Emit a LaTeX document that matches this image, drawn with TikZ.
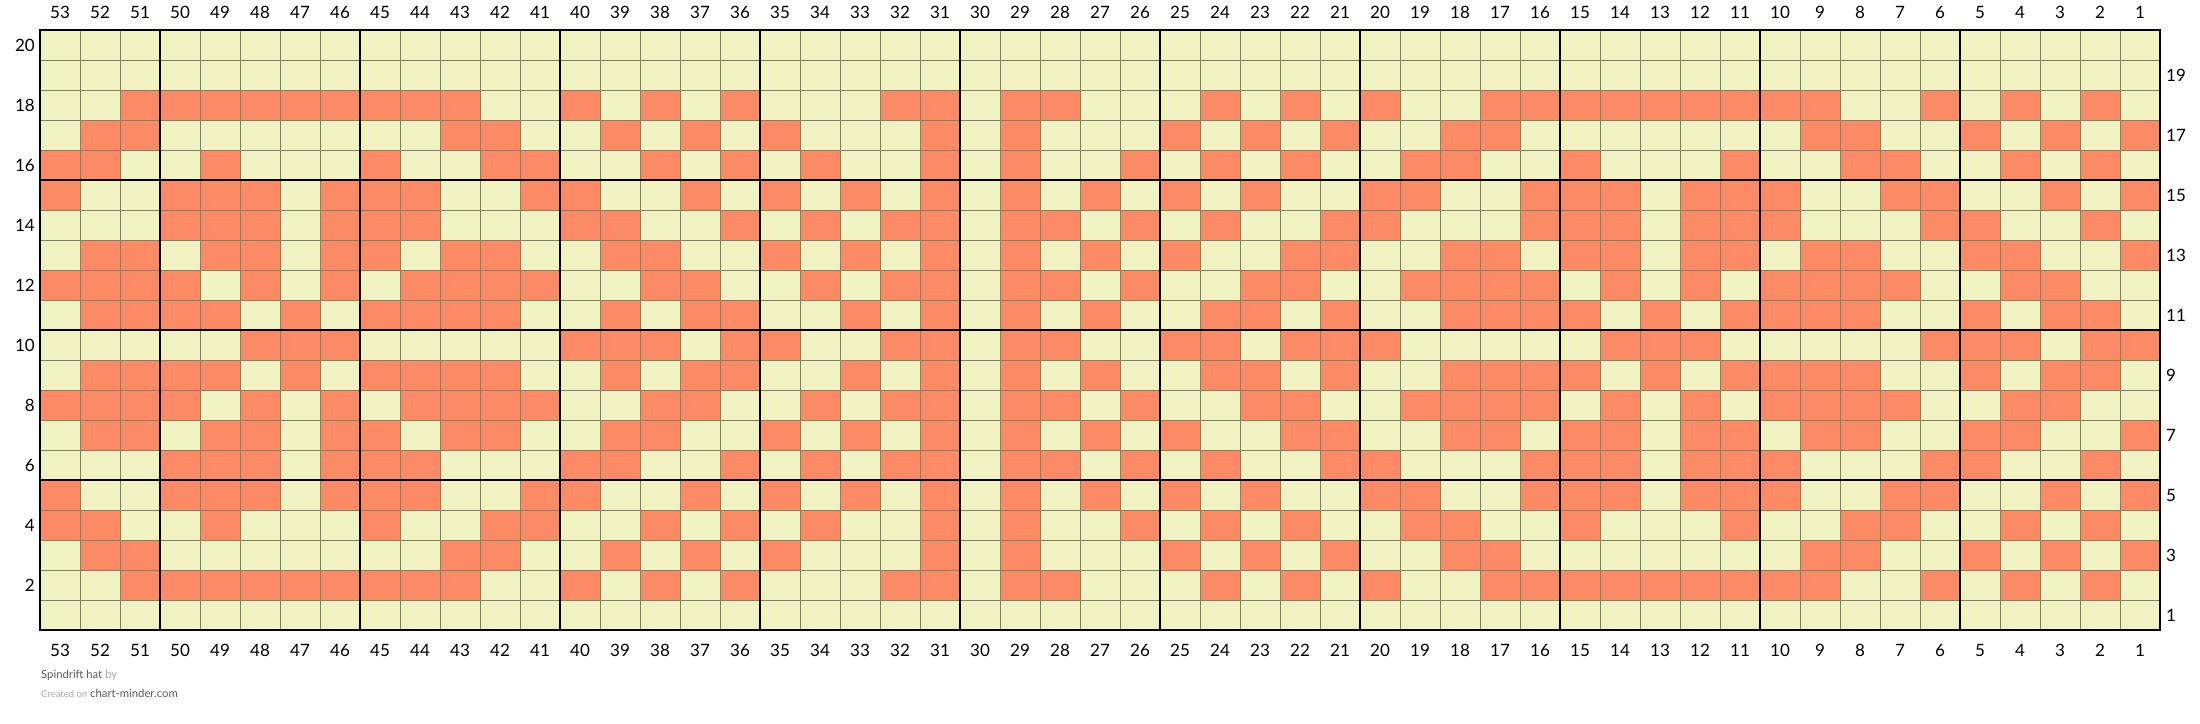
\documentclass[tikz,border=0pt]{standalone}
\usepackage{fontspec}
\setmainfont{Lato}
\definecolor{cellbg}{HTML}{F0F2C2}
\definecolor{cellor}{HTML}{FC8A65}
\definecolor{thinln}{HTML}{7F8068}
\definecolor{footdark}{HTML}{5A5A5A}
\definecolor{footlight}{HTML}{A8A8A8}
\begin{document}
\begin{tikzpicture}[x=1pt,y=1pt,
  num/.style={font=\fontsize{17}{20}\selectfont, text=black, inner sep=0pt},
  foot/.style={font=\fontsize{11.3}{13}\selectfont, inner sep=0pt, anchor=west},
  thin/.style={draw=thinln, line width=0.8pt},
  thick/.style={draw=black, line width=2.2pt},
  border/.style={draw=black, line width=2.8pt}]
\useasboundingbox (0,0) rectangle (2200,723);
% background cells
\fill[cellbg] (40,93) rectangle (2160,693);
% coloured cells (row / list of columns)
\foreach \r/\cols in {
 18/{51,50,49,48,47,46,45,44,43,40,38,36,32,31,29,28,24,22,20,17,16,15,14,13,12,11,10,9,6,4,2},
 2/{51,50,49,48,47,46,45,44,43,40,38,36,32,31,29,28,24,22,20,17,16,15,14,13,12,11,10,9,6,4,2},
 17/{52,51,43,42,39,37,35,31,29,25,23,21,18,17,9,8,5,3,1},
 3/{52,51,43,42,39,37,35,31,29,25,23,21,18,17,9,8,5,3,1},
 16/{53,52,49,45,42,41,38,36,34,31,29,26,24,22,19,18,15,11,8,7,4,2},
 4/{53,52,49,45,42,41,38,36,34,31,29,26,24,22,19,18,15,11,8,7,4,2},
 15/{53,50,49,48,46,45,44,41,40,37,35,33,31,29,27,25,23,20,19,16,15,14,12,11,10,7,6,3,1},
 5/{53,50,49,48,46,45,44,41,40,37,35,33,31,29,27,25,23,20,19,16,15,14,12,11,10,7,6,3,1},
 14/{50,49,48,46,45,44,40,39,36,34,32,31,29,28,26,24,21,20,16,15,14,12,11,10,6,5,2},
 6/{50,49,48,46,45,44,40,39,36,34,32,31,29,28,26,24,21,20,16,15,14,12,11,10,6,5,2},
 13/{52,51,49,48,46,45,43,42,39,38,35,33,31,29,27,25,22,21,18,17,15,14,12,11,9,8,5,4,1},
 7/{52,51,49,48,46,45,43,42,39,38,35,33,31,29,27,25,22,21,18,17,15,14,12,11,9,8,5,4,1},
 12/{53,52,51,50,48,46,44,43,42,41,38,37,34,32,31,29,28,26,23,22,19,18,17,16,14,12,10,9,8,7,4,3},
 8/{53,52,51,50,48,46,44,43,42,41,38,37,34,32,31,29,28,26,23,22,19,18,17,16,14,12,10,9,8,7,4,3},
 11/{52,51,50,49,47,45,44,43,42,39,37,36,33,31,29,27,24,23,21,18,17,16,15,13,11,10,9,8,5,3,2},
 9/{52,51,50,49,47,45,44,43,42,39,37,36,33,31,29,27,24,23,21,18,17,16,15,13,11,10,9,8,5,3,2},
 10/{48,47,46,40,39,38,36,35,32,31,29,28,25,24,22,21,20,14,13,12,6,5,4,2,1}}
{
  \foreach \c in \cols {
    \fill[cellor] ({2160-40*\c},{63+30*\r}) rectangle ++(40,30);
  }
}
% thin grid lines
\foreach \c in {1,...,52} { \draw[thin] ({40+40*\c},93) -- ({40+40*\c},693); }
\foreach \r in {1,...,19} { \draw[thin] (40,{93+30*\r}) -- (2160,{93+30*\r}); }
% thick group lines
\foreach \k in {1,...,10} { \draw[thick] ({2160-200*\k},93) -- ({2160-200*\k},693); }
\foreach \k in {1,2,3} { \draw[thick] (40,{93+150*\k}) -- (2160,{93+150*\k}); }
% border
\draw[border] (40,93) rectangle (2160,693);
% column numbers
\foreach \c in {1,...,53} {
  \node[num] (top\c) at ({2180-40*\c},711) {\c};
  \node[num] (bot\c) at ({2180-40*\c},73) {\c};
}
% row numbers
\foreach \r in {2,4,...,20} { \node[num, anchor=east] (left\r) at (35,{78+30*\r}) {\r}; }
\foreach \r in {1,3,...,19} { \node[num, anchor=west] (right\r) at (2166,{78+30*\r}) {\r}; }
% footer
\node[foot] (title) at (41,48) {\textcolor{footdark}{Spindrift hat} \textcolor{footlight}{by}};
\node[foot] (credit) at (41,30) {\textcolor{footlight}{\fontsize{9.5}{12}\selectfont Created on} \textcolor{footdark}{chart-minder.com}};
\end{tikzpicture}
\end{document}
